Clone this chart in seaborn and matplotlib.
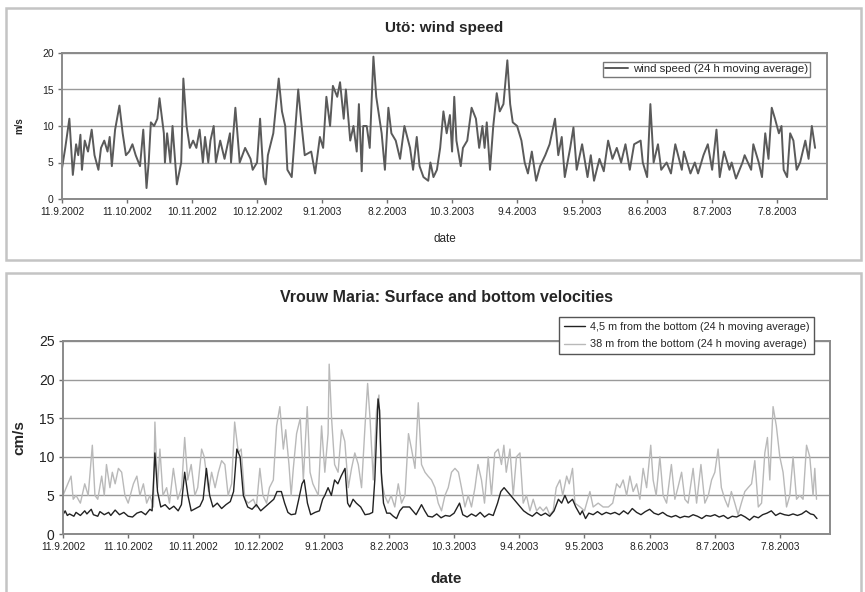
import numpy as np
import pandas as pd
import seaborn as sns
import matplotlib.pyplot as plt
from matplotlib.patches import Rectangle

# Data (days after 11.9.2002, value)
start = pd.Timestamp('2002-09-11')

wind_days = [0, 1.5, 3.4, 5, 6.5, 7.5, 8.5, 9.2, 10.5, 12, 13.7, 15, 16.8, 18, 19.5, 21, 22, 23, 24.5, 26.5,
             28, 29.5, 31, 32.5, 34, 36, 37.5, 39, 40, 41, 42.5, 44, 45, 47, 47.5, 48.5, 50, 51, 53, 55,
             56, 57.5, 59, 60.5, 62, 63.5, 65, 66, 67.5, 68.5, 70, 71, 73, 75, 77.5, 78, 80, 82, 84.5, 87,
             88, 90, 91.4, 93, 94, 95, 97.5, 100, 101.5, 103, 104, 106, 107.5, 109, 110.6, 112, 115, 116.8, 119, 120.5,
             122, 123.7, 125, 127, 128.3, 130, 131, 133, 134.5, 136, 137, 138.3, 139, 140.6, 142, 143.7, 145, 147.5, 149, 150.6,
             152, 154, 156, 158, 160.6, 162, 163.7, 165, 166.8, 169, 170, 171.4, 173, 174.5, 176, 177.5, 179, 180, 181, 182,
             184, 185, 187, 189, 191, 192.5, 194, 195, 196, 197.5, 199, 200.6, 202, 203.7, 205.5, 206.8, 208, 210, 212, 213.5,
             215, 216.8, 218.8, 220.6, 223, 225, 227.5, 229, 230.6, 232, 234.5, 236, 237.5, 240, 242.5, 244, 245.5, 248, 250, 252,
             254, 256, 258, 260, 262, 264, 267, 268, 270, 271.5, 273, 275, 276.5, 279, 281, 283, 286, 287, 290, 292,
             293.5, 296, 298, 300, 302, 303.5, 305.5, 308, 309, 311, 314, 315, 318, 319, 321.5, 323, 324.5, 326, 327.5, 329,
             330.8, 332, 333, 334.6, 336, 337.5, 339, 340.6, 343, 344.5, 346, 347.5]
wind_speed = [4.2, 7.0, 11.0, 3.3, 7.5, 6.0, 8.8, 4.0, 8.0, 6.5, 9.5, 6.0, 4.0, 7.0, 8.0, 6.5, 8.5, 4.5, 9.5, 12.8,
              9.0, 6.0, 6.5, 7.5, 6.0, 4.5, 9.5, 1.5, 5.0, 10.5, 10.0, 11.0, 13.8, 9.0, 5.0, 9.0, 5.0, 10.0, 2.0, 5.0,
              16.5, 10.0, 7.0, 8.0, 7.0, 9.5, 5.0, 8.5, 5.0, 8.0, 10.0, 5.0, 8.0, 5.5, 9.0, 5.0, 12.5, 5.0, 7.0, 5.5,
              4.0, 5.0, 11.0, 3.0, 2.0, 6.0, 9.0, 16.5, 12.0, 10.0, 4.0, 3.0, 9.0, 15.0, 10.0, 6.0, 6.5, 3.5, 8.5, 7.0,
              14.0, 10.0, 15.5, 14.0, 16.0, 11.0, 15.0, 8.0, 10.0, 6.5, 13.0, 3.8, 10.0, 10.0, 7.0, 19.5, 14.0, 9.0, 4.0, 12.5,
              9.0, 8.0, 5.5, 10.0, 7.0, 4.0, 8.5, 4.5, 3.0, 2.5, 5.0, 3.0, 4.0, 7.0, 12.0, 9.0, 11.5, 6.5, 14.0, 8.0,
              4.5, 7.0, 8.0, 12.5, 11.0, 7.0, 10.0, 7.0, 10.5, 4.0, 10.0, 14.5, 12.0, 13.0, 19.0, 13.0, 10.5, 10.0, 8.0, 5.0,
              3.5, 6.5, 2.5, 4.5, 6.0, 7.5, 11.0, 6.0, 8.5, 3.0, 7.0, 9.8, 4.0, 7.5, 3.0, 6.0, 2.5, 5.5, 3.8, 8.0,
              5.5, 7.0, 5.0, 7.5, 4.0, 7.5, 8.0, 5.0, 3.0, 13.0, 5.0, 7.5, 4.0, 5.0, 3.5, 7.5, 4.0, 6.5, 3.5, 5.0,
              3.5, 6.0, 7.5, 4.0, 9.5, 3.0, 6.5, 4.0, 5.0, 2.8, 5.0, 6.0, 4.0, 7.5, 5.0, 3.0, 9.0, 5.5, 12.5, 11.0,
              9.0, 10.0, 4.0, 3.0, 9.0, 8.0, 4.0, 5.0, 8.0, 5.5, 10.0, 7.0]

surf_days = [0, 1.5, 3.7, 4.7, 6, 8, 10, 11.6, 13.5, 14.7, 16, 17.8, 19, 20, 21.6, 22.7, 24, 25.5, 27, 28.5,
             30, 32.4, 34, 35.4, 37, 38.5, 40, 41.6, 42.3, 43.5, 44.6, 46, 47.7, 49, 50.8, 52.8, 54.6, 56, 57.4, 59,
             60.7, 62, 63.8, 65, 67, 68.4, 70, 71.5, 73, 74.5, 76, 77.6, 79, 80.7, 82, 83.7, 85.3, 87.6, 89, 90.6,
             92, 93.7, 95, 96.8, 98.3, 99.8, 101.4, 102.5, 104, 105, 106, 107.5, 109.2, 110.6, 112.4, 113.7, 115, 117.5, 119, 120.5,
             122, 122.5, 123.6, 125, 126.6, 128.2, 129.7, 131.3, 132.8, 134.3, 135.9, 137.4, 139, 140.2, 141.3, 142.8, 144.3, 145.4, 146.6, 148,
             149.6, 151, 152.7, 154.3, 155.8, 157.4, 159, 160.4, 162, 163.5, 165, 166.6, 168, 169.6, 171.2, 172.7, 174.2, 175.8, 177.3, 178.8,
             180.4, 182, 183.4, 185, 186.5, 188, 189.6, 191, 192.6, 194, 195.7, 197.2, 198.7, 200.3, 201.8, 202.9, 204, 205.7, 207.2, 208.7,
             210.3, 211.8, 213.3, 214.9, 216.4, 218, 219.5, 221, 222.5, 224, 225.6, 227, 228.7, 230, 231.8, 233, 234.5, 235.6, 238, 240,
             242.5, 244, 246.3, 248.6, 251, 253, 254.8, 256.3, 257.8, 259.4, 260.9, 262.4, 264, 265.5, 267, 268.6, 270.5, 271.6, 273, 274.7,
             276.2, 277.8, 280, 281.6, 283, 284.7, 286.2, 287.7, 290, 291.6, 293.6, 295.4, 297, 298.5, 300, 301.5, 303, 304.6, 306.1, 307.6,
             309.2, 310.7, 312.2, 313.8, 315.3, 316.9, 318.4, 320, 321.5, 323, 324.2, 325.3, 326.8, 328.3, 329.9, 331.4, 333, 334.5, 336, 337.6,
             339.1, 340.6, 342.2, 343.7, 345.2, 346, 346.8]
surf_speed = [5.0, 6.0, 7.5, 4.5, 5.0, 4.0, 6.5, 5.0, 11.5, 5.0, 4.5, 7.5, 5.0, 9.0, 6.0, 8.0, 6.5, 8.5, 8.0, 5.0,
              4.0, 6.5, 7.5, 5.0, 6.5, 4.0, 5.0, 3.5, 14.5, 6.0, 11.0, 5.0, 6.0, 4.0, 8.5, 4.5, 6.0, 12.5, 7.0, 9.0,
              5.0, 6.0, 11.0, 10.0, 5.5, 8.0, 6.0, 8.0, 9.5, 9.0, 5.0, 6.5, 14.5, 10.5, 11.0, 4.5, 4.0, 4.5, 3.5, 8.5,
              5.0, 4.0, 6.0, 7.0, 14.0, 16.5, 11.0, 13.5, 9.0, 5.0, 8.5, 13.0, 15.0, 7.0, 16.5, 8.0, 6.5, 5.0, 14.0, 8.0,
              13.0, 22.0, 15.0, 9.0, 8.0, 13.5, 12.0, 6.0, 8.5, 10.5, 9.0, 6.0, 14.0, 19.5, 15.0, 7.0, 16.0, 18.0, 7.0, 5.0,
              4.0, 5.0, 3.5, 6.5, 4.0, 5.0, 13.0, 11.0, 8.5, 17.0, 9.0, 8.0, 7.5, 7.0, 6.0, 4.0, 3.0, 5.0, 6.0, 8.0,
              8.5, 8.0, 6.0, 3.5, 5.0, 3.5, 6.0, 9.0, 7.0, 4.0, 10.0, 5.0, 10.5, 11.0, 9.0, 11.5, 8.0, 11.0, 5.0, 10.0,
              10.5, 4.0, 5.0, 3.0, 4.5, 3.0, 3.5, 3.0, 3.5, 2.5, 3.0, 6.0, 7.0, 5.0, 7.5, 6.5, 8.5, 4.0, 3.5, 3.0,
              5.5, 3.5, 4.0, 3.5, 3.5, 4.0, 6.5, 6.0, 7.0, 5.0, 7.5, 5.5, 6.5, 4.5, 8.5, 6.0, 11.5, 7.0, 5.0, 10.0,
              5.0, 4.0, 9.0, 4.5, 6.0, 8.0, 4.5, 4.0, 8.5, 4.0, 9.0, 4.0, 5.0, 7.0, 8.0, 11.0, 6.0, 4.5, 3.5, 5.5,
              4.0, 2.5, 4.0, 5.5, 6.0, 6.5, 9.5, 3.5, 4.0, 10.5, 12.5, 7.0, 16.5, 14.0, 10.0, 8.0, 3.5, 5.0, 10.0, 4.5,
              5.0, 4.5, 11.5, 10.0, 5.0, 8.5, 4.5]

bot_days = [0, 1, 2, 3, 5, 6, 8, 10, 11, 13, 14, 16, 17, 19, 21, 22, 24, 26, 28, 30,
            32, 34, 36, 38, 40, 41, 42.3, 43.5, 45, 47, 49, 51, 53, 54.5, 56, 57.5, 59, 61, 63, 64.5,
            66, 67.5, 69, 71, 73, 75, 77, 78.5, 80, 81.5, 83, 85, 87, 89, 91, 93, 95, 97, 98.5, 100.5,
            102, 103.5, 105, 107, 108.5, 110, 111, 112.5, 114, 116, 118, 119.5, 120.5, 122, 123.5, 125, 126.5, 128, 129.8, 131,
            132, 133.5, 135, 137, 139, 141, 142.5, 143.5, 145, 145.7, 146.5, 147.5, 149, 150.5, 152, 153.5, 155, 156.5, 158, 159.5,
            161, 162.5, 165, 166.5, 168, 170, 172, 174, 176, 178, 180, 182.5, 184, 186, 188, 190, 192, 194, 196, 198,
            200, 201.5, 203, 204.5, 206, 207.5, 209, 210.5, 212, 214, 216, 218, 220, 222, 224, 226, 228, 229.5, 231, 232.5,
            234.5, 236, 238, 239, 240.5, 242, 244, 246, 248, 250, 252, 254, 256, 258, 260, 262, 264, 266, 268, 270,
            272, 274, 276, 278, 280, 282, 284, 286, 288, 290, 292, 294, 296, 298, 300, 302, 304, 306, 308, 310,
            312, 314, 316, 318, 320, 322, 324, 326, 328, 330, 332, 334, 336, 338, 340, 342, 344, 345.5, 347]
bot_speed = [2.5, 3.0, 2.4, 2.6, 2.3, 2.8, 2.4, 3.0, 2.6, 3.2, 2.5, 2.3, 2.9, 2.5, 2.8, 2.4, 3.1, 2.5, 2.8, 2.3,
             2.2, 2.7, 2.9, 2.5, 3.2, 3.0, 10.5, 5.5, 3.5, 3.8, 3.2, 3.6, 3.0, 3.8, 8.0, 5.0, 3.0, 3.3, 3.6, 4.5,
             8.5, 5.0, 3.5, 4.0, 3.3, 3.8, 4.2, 5.5, 11.0, 10.0, 5.0, 3.5, 3.2, 3.8, 3.0, 3.5, 4.0, 4.5, 5.5, 5.5,
             4.0, 2.8, 2.5, 2.6, 4.5, 6.5, 7.0, 4.0, 2.5, 2.8, 3.0, 4.5, 5.0, 6.0, 5.0, 7.0, 6.5, 7.5, 8.5, 4.0,
             3.5, 4.5, 4.0, 3.5, 2.5, 2.6, 2.8, 7.0, 17.5, 16.0, 8.0, 4.0, 2.7, 2.7, 2.3, 2.0, 3.0, 3.5, 3.5, 3.5,
             3.0, 2.5, 3.8, 3.0, 2.3, 2.2, 2.6, 2.1, 2.4, 2.3, 2.7, 4.0, 2.5, 2.2, 2.6, 2.3, 2.8, 2.2, 2.6, 2.4,
             4.0, 5.5, 6.0, 5.5, 5.0, 4.5, 4.0, 3.5, 3.0, 2.6, 2.3, 2.8, 2.4, 2.7, 2.3, 3.0, 4.5, 4.0, 5.0, 4.0,
             4.5, 3.5, 2.5, 3.0, 2.0, 2.7, 2.5, 2.9, 2.5, 2.8, 2.6, 2.8, 2.5, 3.0, 2.6, 3.3, 2.8, 2.5, 2.9, 3.2,
             2.7, 2.5, 2.8, 2.4, 2.2, 2.4, 2.1, 2.3, 2.2, 2.5, 2.3, 2.0, 2.4, 2.3, 2.5, 2.2, 2.4, 2.0, 2.3, 2.2,
             2.5, 2.2, 1.8, 2.3, 2.1, 2.5, 2.7, 3.0, 2.4, 2.7, 2.5, 2.4, 2.6, 2.4, 2.6, 3.0, 2.6, 2.5, 2.0]

tick_labels = ['11.9.2002', '11.10.2002', '10.11.2002', '10.12.2002', '9.1.2003', '8.2.2003',
               '10.3.2003', '9.4.2003', '9.5.2003', '8.6.2003', '8.7.2003', '7.8.2003']


def to_dates(days):
    return start + pd.to_timedelta(np.array(days), unit='D')


wind_df = pd.DataFrame({'date': to_dates(wind_days), 'speed': wind_speed})
surf_df = pd.DataFrame({'date': to_dates(surf_days), 'speed': surf_speed})
bot_df = pd.DataFrame({'date': to_dates(bot_days), 'speed': bot_speed})
tick_dates = pd.to_datetime(tick_labels, format='%d.%m.%Y')

sns.set_style('white')
plt.rcParams['font.family'] = ['Liberation Sans', 'DejaVu Sans']

fig = plt.figure(figsize=(8.65, 5.92), dpi=100)

# panel frames (Excel chart areas)
for y0, h in [(1 - 260 / 592, 252 / 592), (-0.05, 1 - 273 / 592 + 0.05)]:
    fig.patches.append(Rectangle((6 / 865, y0), 855 / 865, h, transform=fig.transFigure,
                                 fill=False, edgecolor='#c4c4c4', lw=1.8))

xmax = start + pd.Timedelta(days=353)


def style_axes(ax, ymax, step, xfs, yfs):
    ax.set_xlim(start, xmax)
    ax.set_ylim(0, ymax)
    ax.set_yticks(np.arange(0, ymax + 1, step))
    ax.set_xticks(tick_dates)
    ax.set_xticklabels(tick_labels)
    ax.grid(axis='y', color='#9a9a9a', lw=1.0)
    ax.grid(axis='x', visible=False)
    ax.set_axisbelow(True)
    for s in ax.spines.values():
        s.set_color('#8a8a8a')
        s.set_linewidth(1.4)
    ax.tick_params(axis='both', which='major', length=3, width=1, color='#707070',
                   pad=3, left=True, bottom=True, labelcolor='#222222')
    ax.tick_params(axis='x', labelsize=xfs)
    ax.tick_params(axis='y', labelsize=yfs)


# top: wind speed
ax1 = fig.add_axes([62 / 865, 1 - 199 / 592, 765 / 865, 146 / 592])
sns.lineplot(data=wind_df, x='date', y='speed', ax=ax1, color='#5a5a5a', lw=1.4,
             estimator=None, label='wind speed (24 h moving average)')
style_axes(ax1, 20, 5, 7.3, 7.5)
ax1.set_title('Utö: wind speed', fontsize=11, fontweight='bold', pad=15)
ax1.set_ylabel('m/s', fontsize=7, fontweight='bold', labelpad=13)
ax1.set_xlabel('date', fontsize=8.5, labelpad=11)
ax1.legend(loc='upper right', bbox_to_anchor=(810 / 865, 1 - 62 / 592), bbox_transform=fig.transFigure,
           fontsize=8.2, frameon=True, fancybox=False, edgecolor='#555555', handlelength=2.0,
           handletextpad=0.4, borderpad=0.2, borderaxespad=0)

# bottom: Vrouw Maria velocities
ax2 = fig.add_axes([63 / 865, 1 - 534 / 592, 767 / 865, 193 / 592])
sns.lineplot(data=surf_df, x='date', y='speed', ax=ax2, color='#b9b9b9', lw=1.0,
             estimator=None, label='38 m from the bottom (24 h moving average)')
sns.lineplot(data=bot_df, x='date', y='speed', ax=ax2, color='#222222', lw=1.0,
             estimator=None, label='4,5 m from the bottom (24 h moving average)')
style_axes(ax2, 25, 5, 7.3, 10)
ax2.set_title('Vrouw Maria: Surface and bottom velocities', fontsize=11.5, fontweight='bold', pad=28)
ax2.set_ylabel('cm/s', fontsize=11, fontweight='bold', labelpad=9)
ax2.set_xlabel('date', fontsize=11, fontweight='bold', labelpad=14)
h, l = ax2.get_legend_handles_labels()
leg = ax2.legend(h[::-1], l[::-1], loc='upper right', bbox_to_anchor=(814 / 865, 1 - 317 / 592),
                 bbox_transform=fig.transFigure, fontsize=7.8, frameon=True, fancybox=False,
                 edgecolor='#555555', handlelength=2.0, handletextpad=0.4, borderpad=0.45,
                 labelspacing=0.7, borderaxespad=0)
leg.get_frame().set_facecolor('white')
leg.get_frame().set_alpha(1)

fig.savefig('out.png', dpi=100)
